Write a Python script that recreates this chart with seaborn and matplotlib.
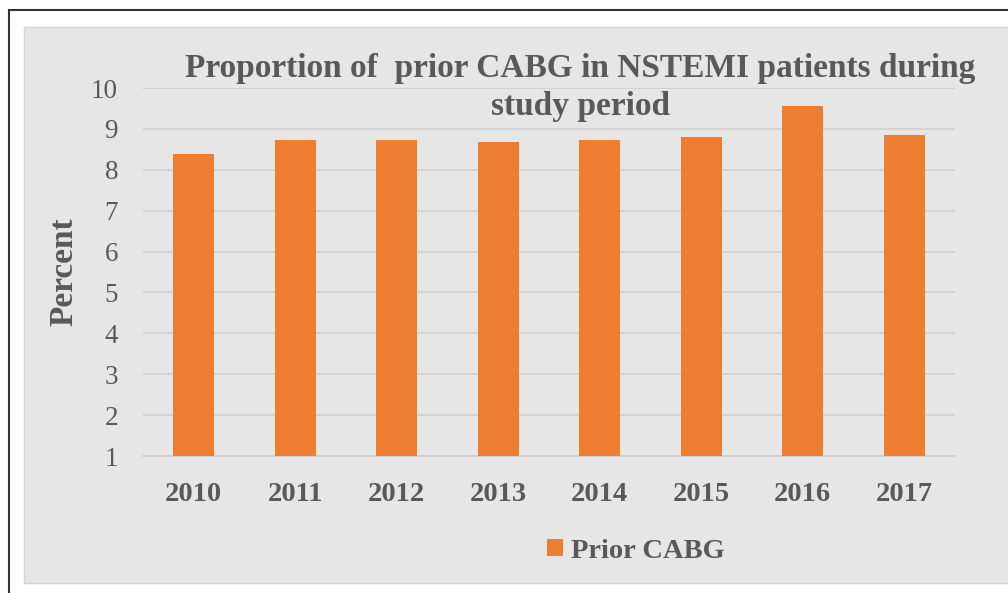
import matplotlib
matplotlib.use("Agg")
import matplotlib.pyplot as plt
import seaborn as sns
import pandas as pd
from matplotlib.patches import Rectangle

years = ["2010", "2011", "2012", "2013", "2014", "2015", "2016", "2017"]
prior_cabg = [8.38, 8.74, 8.74, 8.67, 8.74, 8.79, 9.56, 8.85]
series_name = "Prior CABG"
title_lines = ["Proportion of  prior CABG in NSTEMI patients during", "study period"]
y_label = "Percent"
y_ticks = [1, 2, 3, 4, 5, 6, 7, 8, 9, 10]

df = pd.DataFrame({"Year": years, "Percent": prior_cabg, "Series": series_name})

sns.set_theme(style="white")
plt.rcParams["font.family"] = ["Liberation Serif", "DejaVu Serif"]

W, H = 1008, 593
BG = "#E7E6E6"
TXT = "#595959"
ORANGE = "#ED7D31"

fig = plt.figure(figsize=(W / 100, H / 100), dpi=100, facecolor="white")

# outer frame and grey panel
fig.patches.append(Rectangle((9 / W, -0.1), 1.2, 1 - 10 / H + 0.1, transform=fig.transFigure,
                             facecolor="white", edgecolor="#333333", linewidth=1.5, zorder=-10))
fig.patches.append(Rectangle((24 / W, 1 - 583 / H), 1.0, (583 - 27) / H, transform=fig.transFigure,
                             facecolor=BG, edgecolor="#D4D4D4", linewidth=1.0, zorder=-9))

ax = fig.add_axes([143 / W, 1 - 456 / H, (955 - 143) / W, (456 - 88) / H])
ax.set_facecolor(BG)
ax.patch.set_alpha(0)

sns.barplot(data=df, x="Year", y="Percent", hue="Series", palette=[ORANGE],
            width=0.4, ax=ax, saturation=1, legend=True, zorder=3, linewidth=0)

ax.set_ylim(1, 10)
ax.set_xlim(-0.5, len(years) - 0.5)
ax.set_yticks(y_ticks)
ax.set_yticklabels([str(t) for t in y_ticks])
ax.yaxis.grid(True, color="#D0D0D0", linewidth=1.2, zorder=0)
ax.set_axisbelow(True)
for s in ["top", "right", "left"]:
    ax.spines[s].set_visible(False)
ax.spines["bottom"].set_color("#CFCFCF")
ax.spines["bottom"].set_linewidth(1.2)

ax.tick_params(axis="y", length=0, pad=18, labelsize=19.5, labelcolor=TXT)
ax.tick_params(axis="x", length=0, pad=18.5, labelsize=20.5, labelcolor=TXT)
for lab in ax.get_xticklabels():
    lab.set_fontweight("bold")

ax.set_xlabel("")
ax.set_ylabel(y_label, fontsize=24, fontweight="bold", color=TXT)
ax.yaxis.set_label_coords(79 / W, 1 - 272 / H, transform=fig.transFigure)

fig.text(580.5 / W, 1 - 77 / H, title_lines[0], ha="center", va="baseline",
         fontsize=24, fontweight="bold", color=TXT)
fig.text(581 / W, 1 - 115 / H, title_lines[1], ha="center", va="baseline",
         fontsize=24, fontweight="bold", color=TXT)

sns.move_legend(ax, loc="center", bbox_to_anchor=(636 / W, 1 - 551 / H),
                bbox_transform=fig.transFigure, frameon=False, title=None,
                prop={"size": 20.5, "weight": "bold"}, labelcolor=TXT,
                handlelength=0.55, handleheight=0.55, handletextpad=0.3)

fig.savefig("out.png", dpi=100, facecolor="white")
